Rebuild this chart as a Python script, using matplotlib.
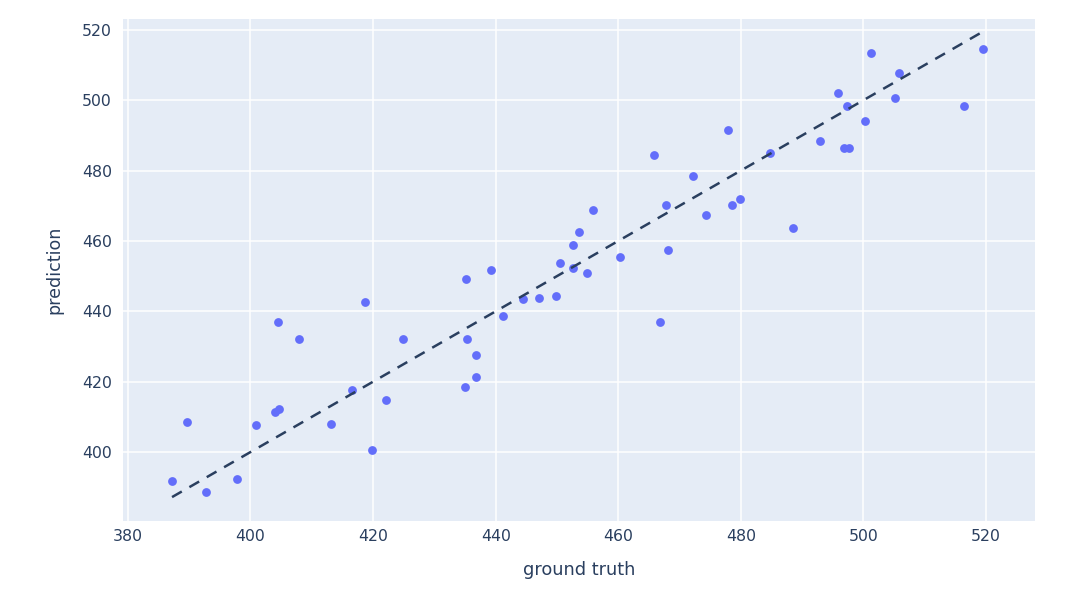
import numpy as np
import matplotlib.pyplot as plt

plt.rcParams['font.family'] = ['DejaVu Sans']

ground_truth = [387.2, 389.6, 392.7, 397.8, 400.9, 404.0, 404.6, 404.5, 407.9, 413.1,
                416.5, 418.7, 419.8, 422.1, 424.9, 435.0, 435.1, 435.3, 436.8, 436.8,
                439.2, 441.2, 444.4, 447.0, 449.8, 450.5, 452.6, 452.6, 453.6, 454.9,
                455.9, 460.3, 465.8, 466.9, 467.8, 468.1, 472.2, 474.3, 477.9, 478.5,
                479.8, 484.7, 488.6, 493.0, 495.8, 496.8, 497.6, 497.3, 500.2, 501.2,
                505.1, 505.8, 516.5, 519.6]
prediction = [391.8, 408.5, 388.6, 392.3, 407.7, 411.4, 412.2, 437.0, 432.1, 408.0,
              417.6, 442.7, 400.6, 414.8, 432.1, 418.5, 449.2, 432.1, 427.6, 421.3,
              451.8, 438.7, 443.5, 443.8, 444.4, 453.8, 452.3, 458.9, 462.6, 450.9,
              468.8, 455.5, 484.5, 437.0, 470.2, 457.4, 478.5, 467.4, 491.6, 470.2,
              471.9, 485.0, 463.7, 488.4, 502.1, 486.4, 486.4, 498.4, 494.1, 513.5,
              500.7, 507.8, 498.4, 514.6]

xticks = [380, 400, 420, 440, 460, 480, 500, 520]
yticks = [400, 420, 440, 460, 480, 500, 520]

text_color = '#2a3f5f'

fig = plt.figure(figsize=(10.8, 5.93), dpi=100)
ax = fig.add_axes([0.1139, 0.1214, 0.8444, 0.8466])
ax.set_facecolor('#e5ecf6')

ax.scatter(ground_truth, prediction, s=40, color='#636efa', linewidths=0, zorder=3)

lo, hi = min(ground_truth), max(ground_truth)
ax.plot([lo, hi], [lo, hi], color=text_color, lw=1.8, dashes=(4.5, 3.5), zorder=4)

ax.set_xlim(379.2, 528.0)
ax.set_ylim(380.4, 523.1)
ax.set_xticks(xticks)
ax.set_yticks(yticks)
ax.grid(True, color='white', lw=1.1)
ax.set_axisbelow(True)
for sp in ax.spines.values():
    sp.set_visible(False)
ax.tick_params(length=0, labelsize=11.3, labelcolor=text_color)
ax.tick_params(axis='x', pad=6)
ax.tick_params(axis='y', pad=8)

ax.set_xlabel('ground truth', fontsize=12.8, color=text_color, labelpad=12)
ax.set_ylabel('prediction', fontsize=12.6, color=text_color, labelpad=13)

fig.savefig('out.png', dpi=100)
